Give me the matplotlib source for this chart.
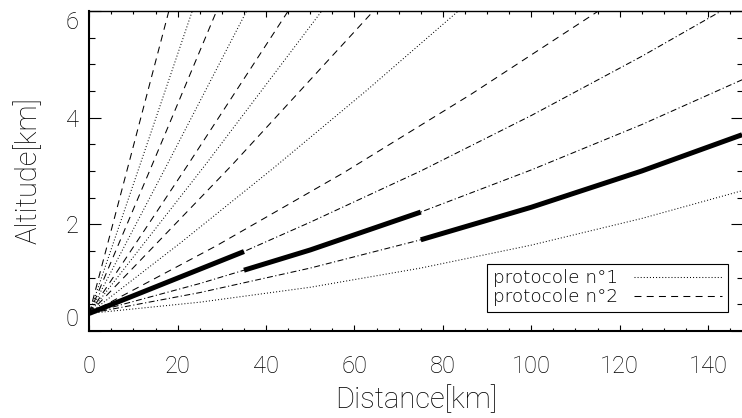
import matplotlib
matplotlib.use('Agg')
import matplotlib.pyplot as plt

plt.rcParams['lines.scale_dashes'] = False
plt.rcParams['font.family'] = ['Roboto', 'DejaVu Sans']
plt.rcParams['font.weight'] = 'light'
plt.rcParams['axes.labelweight'] = 'light'

# beam heights: distance [km] / altitude [km]
b01_x = [0, 9.0, 18.0]
b01_y = [0.33, 3.16, 6.0]
b02_x = [0, 11.65, 23.3]
b02_y = [0.33, 3.16, 6.0]
b03_x = [0, 14.4, 28.8]
b03_y = [0.33, 3.15, 6.0]
b04_x = [0, 17.8, 35.6]
b04_y = [0.33, 3.15, 6.0]
b05_x = [0, 22.5, 45.0]
b05_y = [0.33, 3.14, 6.0]
b06_x = [0, 26.3, 52.6]
b06_y = [0.33, 3.12, 6.0]
b07_x = [0, 32.15, 64.3]
b07_y = [0.33, 3.10, 6.0]
b08_x = [0, 20.9, 41.75, 62.6, 83.5]
b08_y = [0.33, 1.67, 3.06, 4.50, 6.0]
b09_x = [0, 28.8, 57.6, 86.4, 115.2]
b09_y = [0.33, 1.60, 2.97, 4.44, 6.0]
b10_x = [0, 35, 50, 75, 100, 125, 143]
b10_y = [0.33, 1.49, 2.04, 3.00, 4.04, 5.15, 6.0]
b11_x = [0, 25, 35, 50, 75, 100, 125, 147.7]
b11_y = [0.33, 0.89, 1.14, 1.52, 2.23, 3.02, 3.87, 4.71]
b12_x = [0, 25, 50, 75, 100, 125, 147.7]
b12_y = [0.33, 0.72, 1.18, 1.71, 2.32, 3.00, 3.68]
b13_x = [0, 25, 50, 75, 100, 125, 147.7]
b13_y = [0.33, 0.54, 0.82, 1.18, 1.61, 2.11, 2.63]

dotted_beams = [(b02_x, b02_y), (b04_x, b04_y), (b06_x, b06_y), (b08_x, b08_y), (b13_x, b13_y)]
dashed_beams = [(b01_x, b01_y), (b03_x, b03_y), (b05_x, b05_y), (b07_x, b07_y), (b09_x, b09_y)]
dashdot_beams = [(b10_x, b10_y), (b11_x, b11_y), (b12_x, b12_y)]

legend_labels = ['protocole n°1', 'protocole n°2']

DOT = (0, (0.72, 1.5))
DASH = (0, (5.0, 3.8))
DASHDOT = (0, (4.3, 1.8, 0.8, 1.8))

fig = plt.figure(figsize=(7.42, 4.18), dpi=100)
ax = fig.add_axes([89.3 / 742, 1 - 331 / 418, (742.5 - 89.3) / 742, 320 / 418])

h_dot = h_dash = None
for x, y in dotted_beams:
    h_dot, = ax.plot(x, y, color='black', lw=0.75, linestyle=DOT)
for x, y in dashed_beams:
    h_dash, = ax.plot(x, y, color='black', lw=0.75, linestyle=DASH)
for x, y in dashdot_beams:
    ax.plot(x, y, color='black', lw=0.75, linestyle=DASHDOT)

# thick parts of the three dash-dot beams
ax.plot(b10_x[:2], b10_y[:2], color='black', lw=3.6, solid_capstyle='butt')
ax.plot(b11_x[2:5], b11_y[2:5], color='black', lw=3.6, solid_capstyle='butt')
ax.plot(b12_x[3:], b12_y[3:], color='black', lw=3.6, solid_capstyle='butt')

ax.set_xlim(0, 147.8)
ax.set_ylim(0, 6)
ax.set_xticks(range(0, 141, 20))
ax.set_xticks(range(0, 148, 5), minor=True)
ax.set_yticks([0, 2, 4, 6])
ax.set_yticks([i * 0.5 for i in range(13)], minor=True)

for s in ax.spines.values():
    s.set_linewidth(1.0)
ax.spines['left'].set_linewidth(1.5)
ax.spines['bottom'].set_linewidth(1.5)

ax.tick_params(axis='both', which='both', direction='in', top=True, right=True, width=0.8)
ax.tick_params(axis='y', which='major', length=8.6, pad=7.5, labelsize=17)
ax.tick_params(axis='y', which='minor', length=4.3)
ax.tick_params(axis='x', which='major', length=4.6, pad=17, labelsize=17)
ax.tick_params(axis='x', which='minor', length=2.3)

ylabels = ax.get_yticklabels()
ylabels[0].set_va('bottom')
ylabels[-1].set_va('top')

ax.set_xlabel('Distance[km]', fontsize=21)
ax.xaxis.set_label_coords(0.5, -0.216)
ax.xaxis.label.set_va('center')
ax.set_ylabel('Altitude[km]', fontsize=21)
ax.yaxis.set_label_coords(-0.094, 0.5)
ax.yaxis.label.set_va('center')

leg = ax.legend([h_dot, h_dash], legend_labels, loc='upper left',
                bbox_to_anchor=(0.6093, 0.2094), borderaxespad=0, markerfirst=False,
                fancybox=False, edgecolor='black', framealpha=1,
                prop={'family': ['DejaVu Sans'], 'size': 13.2, 'weight': 'light'},
                handlelength=4.8, handletextpad=0.9, labelspacing=0.05, borderpad=0.3)
leg.get_frame().set_linewidth(0.8)

fig.savefig('out.png', dpi=100)
